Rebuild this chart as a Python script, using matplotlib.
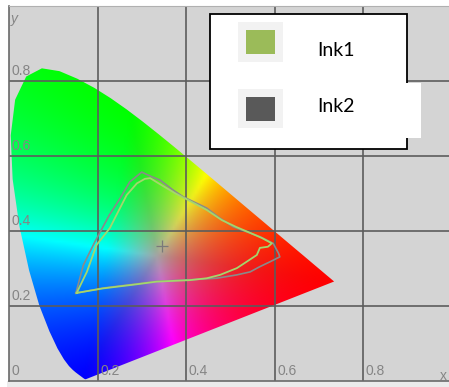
import numpy as np
import matplotlib
matplotlib.use("Agg")
import matplotlib.pyplot as plt
from matplotlib.patches import Polygon, Rectangle

# CIE 1931 2-degree spectral locus, 380-700 nm in 5 nm steps
locus_x = [0.1741, 0.1740, 0.1738, 0.1736, 0.1733, 0.1730, 0.1726, 0.1721, 0.1714,
           0.1703, 0.1689, 0.1669, 0.1644, 0.1611, 0.1566, 0.1510, 0.1440, 0.1355,
           0.1241, 0.1096, 0.0913, 0.0687, 0.0454, 0.0235, 0.0082, 0.0039, 0.0139,
           0.0389, 0.0743, 0.1142, 0.1547, 0.1929, 0.2296, 0.2658, 0.3016, 0.3373,
           0.3731, 0.4087, 0.4441, 0.4788, 0.5125, 0.5448, 0.5752, 0.6029, 0.6270,
           0.6482, 0.6658, 0.6801, 0.6915, 0.7006, 0.7079, 0.7140, 0.7190, 0.7230,
           0.7260, 0.7283, 0.7300, 0.7311, 0.7320, 0.7327, 0.7334, 0.7340, 0.7344,
           0.7346, 0.7347]
locus_y = [0.0050, 0.0050, 0.0049, 0.0049, 0.0048, 0.0048, 0.0048, 0.0048, 0.0051,
           0.0058, 0.0069, 0.0086, 0.0109, 0.0138, 0.0177, 0.0227, 0.0297, 0.0399,
           0.0578, 0.0868, 0.1327, 0.2007, 0.2950, 0.4127, 0.5384, 0.6548, 0.7502,
           0.8120, 0.8338, 0.8262, 0.8059, 0.7816, 0.7543, 0.7243, 0.6923, 0.6589,
           0.6245, 0.5896, 0.5547, 0.5202, 0.4866, 0.4544, 0.4242, 0.3965, 0.3725,
           0.3514, 0.3340, 0.3197, 0.3083, 0.2993, 0.2920, 0.2859, 0.2809, 0.2770,
           0.2740, 0.2717, 0.2700, 0.2689, 0.2680, 0.2673, 0.2666, 0.2660, 0.2656,
           0.2654, 0.2653]

# Measured gamut boundaries of the two inks (x, y chromaticity)
ink1_x = [0.153, 0.176, 0.198, 0.228, 0.243, 0.266, 0.289, 0.307, 0.319, 0.341,
          0.375, 0.409, 0.447, 0.481, 0.513, 0.545, 0.572, 0.594, 0.585, 0.567,
          0.560, 0.537, 0.515, 0.477, 0.447, 0.409, 0.334, 0.289, 0.213, 0.153]
ink1_y = [0.235, 0.291, 0.363, 0.408, 0.443, 0.496, 0.527, 0.539, 0.541, 0.525,
          0.501, 0.480, 0.456, 0.429, 0.411, 0.395, 0.381, 0.367, 0.358, 0.355,
          0.336, 0.318, 0.301, 0.283, 0.274, 0.269, 0.265, 0.258, 0.247, 0.235]
ink2_x = [0.151, 0.168, 0.194, 0.227, 0.251, 0.273, 0.300, 0.322, 0.341, 0.371,
          0.394, 0.424, 0.447, 0.477, 0.507, 0.537, 0.567, 0.597, 0.609, 0.612,
          0.590, 0.567, 0.545, 0.515, 0.469, 0.409, 0.334, 0.289, 0.213, 0.151]
ink2_y = [0.234, 0.309, 0.371, 0.443, 0.487, 0.531, 0.557, 0.545, 0.536, 0.509,
          0.491, 0.474, 0.461, 0.434, 0.411, 0.398, 0.385, 0.367, 0.341, 0.331,
          0.318, 0.305, 0.291, 0.283, 0.274, 0.270, 0.266, 0.259, 0.248, 0.234]

white_point = (0.345, 0.360)
series_names = ["Ink1", "Ink2"]
series_colors = ["#9bbb59", "#595959"]
tick_values = [0.2, 0.4, 0.6, 0.8]
tick_labels = ["0.2", "0.4", "0.6", "0.8"]

W, H, DPI = 449, 387, 100
fig = plt.figure(figsize=(W / DPI, H / DPI), dpi=DPI)
fig.patch.set_facecolor("white")

# light strip under the plot area
fig.add_artist(Rectangle((7 / W, 0), 1, 6 / H, transform=fig.transFigure,
                         facecolor="#ebebeb", edgecolor="none", zorder=0))

ax = fig.add_axes([9 / W, 6 / H, 442.5 / W, 375 / H])
ax.set_xlim(0, 1)
ax.set_ylim(0, 1)
ax.set_facecolor("#d4d4d4")
ax.set_xticks([])
ax.set_yticks([])
for side in ["left", "bottom"]:
    ax.spines[side].set_color("#6a6a6a")
    ax.spines[side].set_linewidth(1.2)
ax.spines["top"].set_color("#b0b0b0")
ax.spines["top"].set_linewidth(0.8)
ax.spines["right"].set_visible(False)

# chromaticity colour fill (wide-gamut CIE RGB primaries)
res = 160
gx = np.linspace(0, 1, res)
gy = np.linspace(0, 1, res)
GX, GY = np.meshgrid(gx, gy)
Ys = np.clip(GY, 1e-4, None)
Xc = GX / Ys
Zc = (1 - GX - GY) / Ys
r = 2.3646 * Xc - 0.8965 - 0.4681 * Zc
g = -0.5152 * Xc + 1.4264 + 0.0887 * Zc
b = 0.0052 * Xc - 0.0144 + 1.0092 * Zc
rgb = np.clip(np.stack([r, g, b], axis=-1), 0, None)
mx = rgb.max(axis=-1, keepdims=True)
mx[mx == 0] = 1
rgb = rgb / mx
sat = 1 - rgb.min(axis=-1, keepdims=True)
disp = rgb ** 1.2
disp = disp * (0.64 + 0.36 * sat)
disp = np.clip(disp, 0, 1)

locus = Polygon(np.column_stack([locus_x, locus_y]), closed=True,
                facecolor="none", edgecolor="none")
ax.add_patch(locus)
im = ax.imshow(disp, origin="lower", extent=[0, 1, 0, 1], aspect="auto",
               interpolation="bilinear", zorder=1)
im.set_clip_path(locus)

# grid
for v in tick_values:
    ax.axvline(v, color="#5c5c5c", lw=1.2, zorder=2)
    ax.axhline(v, color="#5c5c5c", lw=1.2, zorder=2)

# in-plot axis labels
lab_kw = dict(fontsize=10, color="#858585", family="Liberation Sans", zorder=3)
ax.text(0.006, 0.008, "0", ha="left", va="bottom", **lab_kw)
for v, s in zip(tick_values, tick_labels):
    ax.text(v + 0.006, 0.008, s, ha="left", va="bottom", **lab_kw)
    ax.text(0.006, v + 0.008, s, ha="left", va="bottom", **lab_kw)
ax.text(0.982, -0.004, "x", ha="center", va="bottom", **lab_kw)
ax.text(0.011, 0.965, "y", ha="center", va="center", style="italic", **lab_kw)

# white point marker
ax.plot([white_point[0]], [white_point[1]], marker="+", ms=9, mew=0.9,
        color="#7a7a7a", zorder=3)

# gamut outlines
ax.plot(ink2_x, ink2_y, color="#8a8a8a", lw=1.2, zorder=4)
ax.plot(ink1_x, ink1_y, color="#a4d66c", lw=1.3, zorder=5)

# legend panel drawn in pixel units of the figure
def px_rect(x0, y0, x1, y1, **kw):
    fig.add_artist(Rectangle((x0 / W, 1 - y1 / H), (x1 - x0) / W, (y1 - y0) / H,
                             transform=fig.transFigure, **kw))

px_rect(210, 14, 407, 149, facecolor="white", edgecolor="black", lw=1.3, zorder=10)
px_rect(404, 83, 421, 138, facecolor="white", edgecolor="none", zorder=11)
rows = [(22, 62, 30, 54, 50), (89, 128, 97, 121, 107)]
for (o0, o1, i0, i1, ty), name, col in zip(rows, series_names, series_colors):
    px_rect(238, o0, 283, o1, facecolor="#f2f2f2", edgecolor="none", zorder=12)
    px_rect(246, i0, 275, i1, facecolor=col, edgecolor="none", zorder=13)
    fig.text(317 / W, 1 - ty / H, name, ha="left", va="center", fontsize=14,
             family="Lato", color="black", zorder=14)

fig.savefig("out.png", dpi=DPI)
